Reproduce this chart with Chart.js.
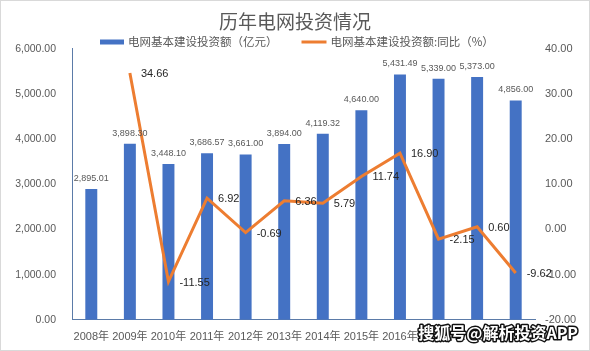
<!DOCTYPE html>
<html>
<head>
<meta charset="UTF-8">
<title>历年电网投资情况</title>
<style>
body { margin: 0; background: #fff; }
</style>
</head>
<body>
<canvas id="myChart" width="590" height="351"></canvas>
<script src="https://cdn.jsdelivr.net/npm/chart.js@4.4.1/dist/chart.umd.min.js"></script>
<script type="text/javascript">
// 데이터
var years = ['2008年','2009年','2010年','2011年','2012年','2013年','2014年','2015年','2016年','2017年','2018年','2019年'];
var investment = [2895.01, 3898.30, 3448.10, 3686.57, 3661.00, 3894.00, 4119.32, 4640.00, 5431.49, 5339.00, 5373.00, 4856.00];
var growth = [null, 34.66, -11.55, 6.92, -0.69, 6.36, 5.79, 11.74, 16.90, -2.15, 0.60, -9.62];
var leftTicks = [0, 1000, 2000, 3000, 4000, 5000, 6000];
var rightTicks = [-20, -10, 0, 10, 20, 30, 40];

var numFont = '"Liberation Sans", "Noto Sans CJK SC", sans-serif';
var cjkFont = '"Noto Sans CJK SC", sans-serif';
var fmt = function(v) {
	return Number(v).toLocaleString('en-US', {minimumFractionDigits: 2, maximumFractionDigits: 2});
};

// 라벨, 범례, 워터마크
var labelPlugin = {
	id: 'labels',
	afterDatasetsDraw: function(chart) {
		var ctx = chart.ctx;
		ctx.save();
		// bar labels
		ctx.font = '9px ' + numFont;
		ctx.fillStyle = '#595959';
		ctx.textAlign = 'center';
		ctx.textBaseline = 'bottom';
		chart.getDatasetMeta(0).data.forEach(function(bar, i) {
			ctx.fillText(fmt(investment[i]), bar.x, bar.y - 6);
		});
		// line labels
		ctx.font = '11px ' + numFont;
		ctx.fillStyle = '#262626';
		ctx.textAlign = 'left';
		ctx.textBaseline = 'middle';
		chart.getDatasetMeta(1).data.forEach(function(pt, i) {
			if (growth[i] === null) return;
			ctx.fillText(fmt(growth[i]), pt.x + 11, pt.y + 1);
		});
		ctx.restore();
	},
	afterDraw: function(chart) {
		var ctx = chart.ctx;
		var ds = chart.data.datasets;
		ctx.save();
		// legend
		ctx.font = '11.5px ' + cjkFont;
		ctx.fillStyle = '#595959';
		ctx.textAlign = 'left';
		ctx.textBaseline = 'middle';
		var x = 100, y = 42;
		ctx.fillStyle = ds[0].backgroundColor;
		ctx.fillRect(x, y - 2.5, 24, 5);
		ctx.fillStyle = '#595959';
		ctx.fillText(ds[0].label, x + 28, y);
		x = 128 + ctx.measureText(ds[0].label).width + 24;
		ctx.strokeStyle = ds[1].borderColor;
		ctx.lineWidth = 3;
		ctx.beginPath();
		ctx.moveTo(x, y);
		ctx.lineTo(x + 25, y);
		ctx.stroke();
		ctx.fillText(ds[1].label, x + 29, y);
		// frame
		ctx.strokeStyle = '#d9d9d9';
		ctx.lineWidth = 1;
		ctx.strokeRect(0.5, 0.5, chart.width - 1, chart.height - 1);
		// watermark
		ctx.font = 'bold 16px ' + cjkFont;
		ctx.textAlign = 'right';
		ctx.lineJoin = 'round';
		ctx.lineWidth = 3;
		ctx.strokeStyle = '#111';
		ctx.strokeText('搜狐号@解析投资APP', 578, 333);
		ctx.fillStyle = '#fff';
		ctx.fillText('搜狐号@解析投资APP', 578, 333);
		ctx.restore();
	}
};

var ctx = document.getElementById('myChart').getContext('2d');
var chart = new Chart(ctx, {
	type: 'bar',
	data: {
		labels: years,
		datasets: [{
			type: 'bar',
			label: '电网基本建设投资额（亿元）',
			data: investment,
			backgroundColor: '#4472C4',
			borderWidth: 0,
			barPercentage: 0.31,
			categoryPercentage: 1,
			yAxisID: 'y',
			order: 1
		}, {
			type: 'line',
			label: '电网基本建设投资额:同比（%）',
			data: growth,
			borderColor: '#ED7D31',
			backgroundColor: '#ED7D31',
			borderWidth: 3,
			pointRadius: 0,
			tension: 0,
			yAxisID: 'y1',
			order: 0
		}]
	},
	options: {
		responsive: false,
		animation: false,
		layout: { padding: { left: 0, right: 0, top: 0, bottom: 4 } },
		plugins: {
			title: {
				display: true,
				text: '历年电网投资情况',
				color: '#595959',
				font: { size: 19, family: cjkFont, weight: 'normal' },
				padding: { top: 10, bottom: 16 }
			},
			legend: { display: false },
			tooltip: { enabled: false }
		},
		scales: {
			x: {
				grid: { display: false },
				border: { color: '#5b7ba8' },
				ticks: { color: '#595959', font: { size: 11, family: numFont }, maxRotation: 0, autoSkip: false }
			},
			y: {
				position: 'left',
				min: 0,
				max: 6000,
				afterBuildTicks: function(s) { s.ticks = leftTicks.map(function(v) { return {value: v}; }); },
				grid: { display: false },
				border: { color: '#5b7ba8' },
				ticks: { color: '#595959', font: { size: 10.5, family: numFont }, padding: 8, callback: fmt },
				afterFit: function(s) { s.width = 72; }
			},
			y1: {
				position: 'right',
				min: -20,
				max: 40,
				afterBuildTicks: function(s) { s.ticks = rightTicks.map(function(v) { return {value: v}; }); },
				grid: { display: false },
				border: { display: false },
				ticks: { color: '#595959', font: { size: 11, family: numFont }, padding: 2, callback: fmt },
				afterFit: function(s) { s.width = 55; }
			}
		}
	},
	plugins: [labelPlugin]
});
</script>
</body>
</html>
